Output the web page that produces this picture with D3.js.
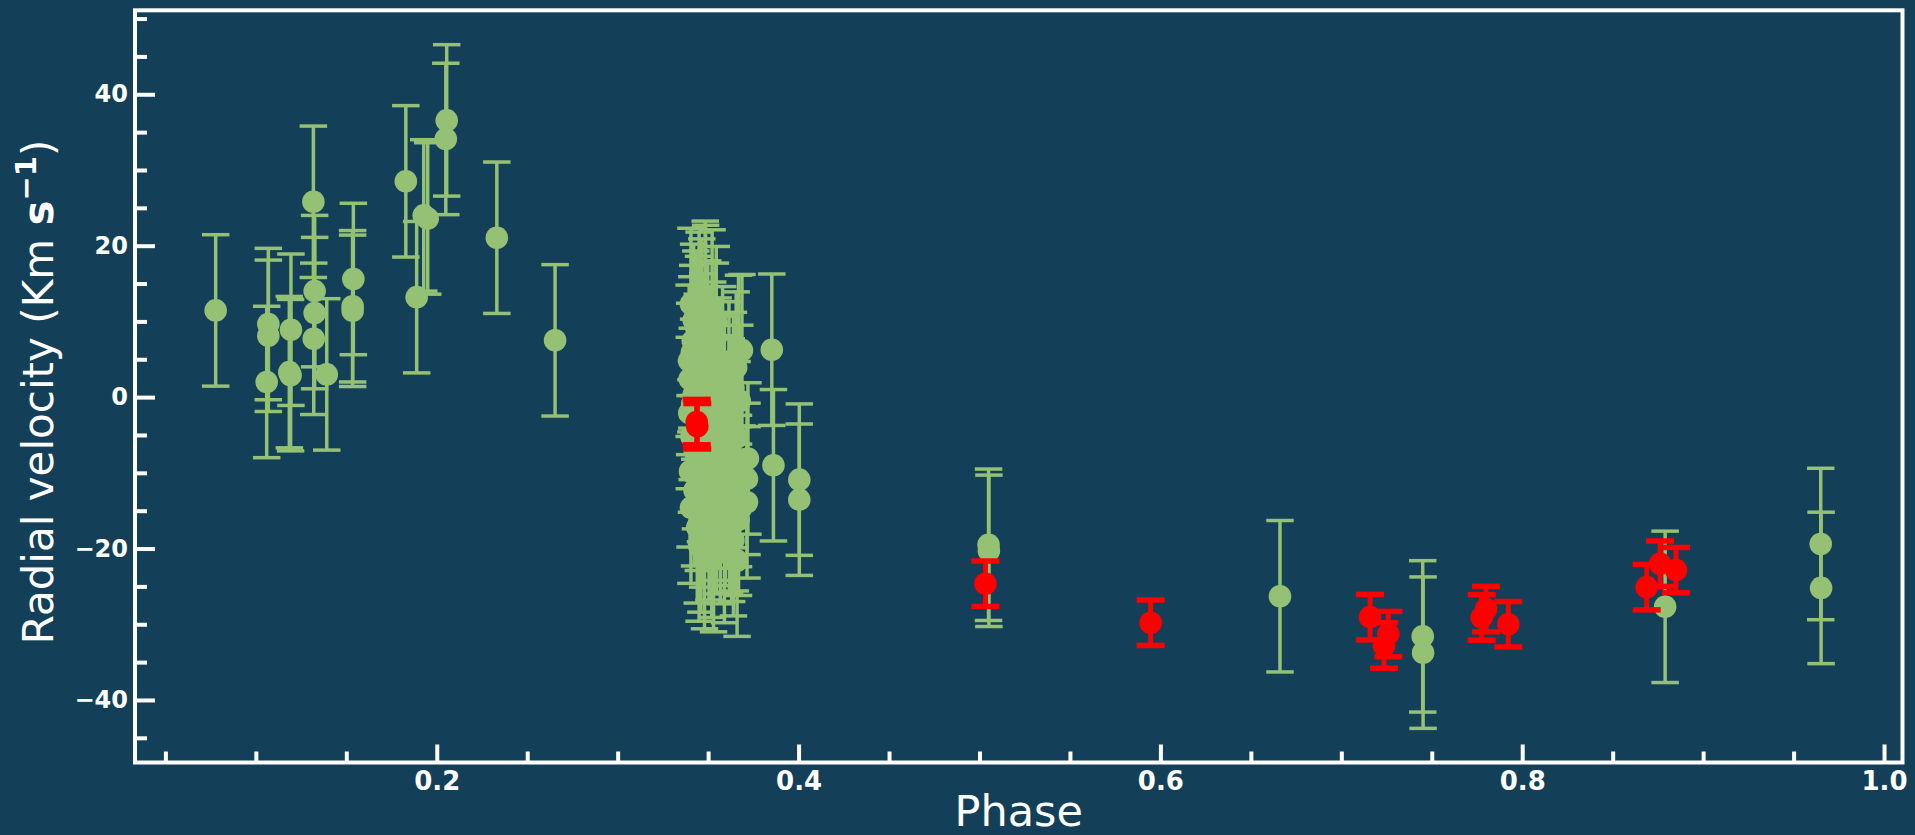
<!DOCTYPE html>
<html>
<head>
<meta charset="utf-8">
<script src="https://d3js.org/d3.v7.min.js"></script>
<style>
  html, body { margin: 0; padding: 0; background: #133f58; }
  svg { display: block; }
</style>
</head>
<body>
<svg id="chart" width="1915" height="835"></svg>
<script>
// ---------------- DATA ----------------
// green series: [phase, radial velocity], error bar ±greenError
const greenLeft = [
  [0.0778, 11.45],
  [0.1069, 9.65], [0.1069, 8.1], [0.1060, 2.0],
  [0.1194, 8.9], [0.1185, 3.3], [0.1192, 2.9],
  [0.1392, 3.0],
  [0.1318, 25.8], [0.1325, 14.0], [0.1325, 11.1], [0.1320, 7.7],
  [0.1539, 15.6], [0.1535, 12.0], [0.1535, 11.4],
  [0.1829, 28.5],
  [0.1889, 13.2],
  [0.1928, 24.0], [0.1950, 23.6],
  [0.2055, 36.55], [0.2050, 34.1],
  [0.2332, 21.05],
  [0.2654, 7.5]
];
const greenCluster = [
  [0.3484, 13.25], [0.3486, 12.7], [0.3447, 8.6], [0.3450, 11.8], [0.3420, 10.2],
  [0.3405, 12.3], [0.3465, 10.9], [0.3522, 12.1], [0.3545, 9.9], [0.3498, 8.0],
  [0.3540, 7.7], [0.3415, 7.4], [0.3395, 4.8], [0.3432, 9.3],
  [0.3668, 6.1], [0.3687, 6.2],
  [0.3410, 5.9], [0.3470, 6.3], [0.3525, 5.2], [0.3580, 4.6], [0.3478, 4.2],
  [0.3398, 2.4], [0.3440, 3.6], [0.3495, 2.9], [0.3555, 3.1], [0.3615, 2.6], [0.3655, 3.9],
  [0.3420, 0.3], [0.3478, 0.9], [0.3530, -0.2], [0.3590, 0.7], [0.3640, 1.2], [0.3675, -0.5],
  [0.3426, 1.8], [0.3558, 0.9], [0.3412, -0.9],
  [0.3396, -2.1], [0.3455, -1.6], [0.3512, -2.6], [0.3570, -1.9], [0.3628, -2.3], [0.3488, -3.3],
  [0.3408, -5.2], [0.3465, -4.6], [0.3540, -4.9], [0.3600, -4.1], [0.3660, -5.3],
  [0.3430, -7.4], [0.3500, -6.8], [0.3562, -7.6], [0.3620, -6.9], [0.3720, -8.1],
  [0.3400, -9.8], [0.3458, -9.1], [0.3520, -10.2], [0.3585, -9.5], [0.3645, -9.9], [0.3715, -10.8],
  [0.3505, -8.9], [0.3472, -10.4],
  [0.3425, -12.3], [0.3490, -11.8], [0.3550, -12.6], [0.3610, -11.7], [0.3668, -12.4],
  [0.3446, -12.9], [0.3575, -11.2],
  [0.3405, -14.6], [0.3470, -15.1], [0.3535, -14.2], [0.3595, -14.9], [0.3715, -13.9], [0.3650, -15.6],
  [0.3440, -17.2], [0.3505, -16.8], [0.3567, -17.3], [0.3630, -17.0], [0.3668, -16.2],
  [0.3618, -15.8], [0.3545, -16.0],
  [0.3460, -18.4], [0.3450, -19.6], [0.3520, -19.1], [0.3590, -19.8], [0.3640, -18.9],
  [0.3660, -21.6], [0.3530, -21.0], [0.3480, -20.6]
];
const greenRight = [
  [0.3852, 6.26], [0.3861, -9.0],
  [0.4004, -10.9], [0.4004, -13.55],
  [0.5050, -19.5], [0.5052, -20.3],
  [0.6661, -26.3],
  [0.7450, -31.6], [0.7452, -33.75],
  [0.8790, -27.7],
  [0.9650, -19.4], [0.9652, -25.2]
];
const greenError = 10;

// red series: [phase, radial velocity], error bar ±redError
const redPoints = [
  [0.3437, -3.3], [0.3440, -3.85],
  [0.5033, -24.65],
  [0.5946, -29.8],
  [0.7159, -29.06],
  [0.7260, -31.3],
  [0.7236, -32.8],
  [0.7776, -29.1], [0.7800, -28.0],
  [0.7923, -30.0],
  [0.8688, -25.1],
  [0.8762, -22.0],
  [0.8850, -22.85]
];
const redError = 3;

const xMajorTicks = [0.2, 0.4, 0.6, 0.8, 1.0];
const xMinorTicks = [0.05, 0.1, 0.15, 0.25, 0.3, 0.35, 0.45, 0.5, 0.55, 0.65, 0.7, 0.75, 0.85, 0.9, 0.95];
const yMajorTicks = [-40, -20, 0, 20, 40];
const yMinorTicks = [-45, -35, -30, -25, -15, -10, -5, 5, 10, 15, 25, 30, 35, 45, 50];
const xDomain = [0.0332, 1.0102];
const yDomain = [-48.26, 51.09];

// ---------------- DRAW ----------------
const svg = d3.select("#chart");
const W = 1915, H = 835;
const plot = { left: 135, right: 1902.5, top: 10.3, bottom: 762.5 };
const BG = "#133f58", GREEN = "#94c173", RED = "#ff0000", WHITE = "#ffffff";

svg.append("rect").attr("width", W).attr("height", H).attr("fill", BG);

const x = d3.scaleLinear().domain(xDomain).range([plot.left, plot.right]);
const y = d3.scaleLinear().domain(yDomain).range([plot.bottom, plot.top]);

function fmtMinus(v) { return String(v).replace("-", "\u2212"); }

function drawSeries(points, err, color, lw, capW, capLw, r) {
  const g = svg.append("g");
  const bars = g.append("g");
  points.forEach(([p, v]) => {
    bars.append("line")
      .attr("x1", x(p)).attr("x2", x(p))
      .attr("y1", y(v - err)).attr("y2", y(v + err))
      .attr("stroke", color).attr("stroke-width", lw);
    [v - err, v + err].forEach(c => {
      bars.append("line")
        .attr("x1", x(p) - capW).attr("x2", x(p) + capW)
        .attr("y1", y(c)).attr("y2", y(c))
        .attr("stroke", color).attr("stroke-width", capLw);
    });
  });
  g.append("g").selectAll("circle").data(points).join("circle")
    .attr("cx", d => x(d[0])).attr("cy", d => y(d[1]))
    .attr("r", r).attr("fill", color);
}

const allGreen = greenLeft.concat(greenCluster, greenRight);
drawSeries(allGreen, greenError, GREEN, 3.5, 13.75, 3.5, 11.3);
drawSeries(redPoints, redError, RED, 5, 14, 5.5, 11.3);

// axes
const yAxisMajor = d3.axisLeft(y).tickValues(yMajorTicks).tickSize(-20).tickPadding(7)
  .tickFormat(d => fmtMinus(d));
const yAxisMinor = d3.axisLeft(y).tickValues(yMinorTicks).tickSize(-12).tickFormat("");
const xAxisMajor = d3.axisBottom(x).tickValues(xMajorTicks).tickSize(-18).tickPadding(9)
  .tickFormat(d3.format(".1f"));
const xAxisMinor = d3.axisBottom(x).tickValues(xMinorTicks).tickSize(-11).tickFormat("");

function styleAxis(sel, fontSize) {
  sel.select(".domain").remove();
  sel.selectAll(".tick line").attr("stroke", WHITE).attr("stroke-width", 4);
  sel.selectAll(".tick text")
    .attr("fill", WHITE)
    .style("font-family", "'DejaVu Sans', sans-serif")
    .style("font-weight", "bold")
    .style("font-size", fontSize + "px");
}

svg.append("g").attr("transform", `translate(${plot.left},0)`).call(yAxisMinor).call(styleAxis, 24);
svg.append("g").attr("transform", `translate(${plot.left},0)`).call(yAxisMajor).call(styleAxis, 24);
svg.append("g").attr("transform", `translate(0,${plot.bottom})`).call(xAxisMinor).call(styleAxis, 26);
svg.append("g").attr("transform", `translate(0,${plot.bottom})`).call(xAxisMajor).call(styleAxis, 26);

// frame
svg.append("rect")
  .attr("x", plot.left).attr("y", plot.top)
  .attr("width", plot.right - plot.left).attr("height", plot.bottom - plot.top)
  .attr("fill", "none").attr("stroke", WHITE).attr("stroke-width", 4);

// axis titles
svg.append("text")
  .attr("x", (plot.left + plot.right) / 2).attr("y", 826)
  .attr("text-anchor", "middle")
  .attr("fill", WHITE)
  .style("font-family", "'DejaVu Sans', sans-serif")
  .style("font-size", "43px")
  .text("Phase");

const yl = svg.append("text")
  .attr("transform", "translate(53,392) rotate(-90)")
  .attr("text-anchor", "middle")
  .attr("fill", WHITE)
  .style("font-family", "'DejaVu Sans', sans-serif")
  .style("font-size", "42px");
yl.append("tspan").text("Radial velocity (Km ");
yl.append("tspan").style("font-weight", "bold").text("s");
yl.append("tspan").style("font-weight", "bold").style("font-size", "29px").attr("dy", -17).text("\u22121");
yl.append("tspan").attr("dy", 17).text(")");
</script>
</body>
</html>
